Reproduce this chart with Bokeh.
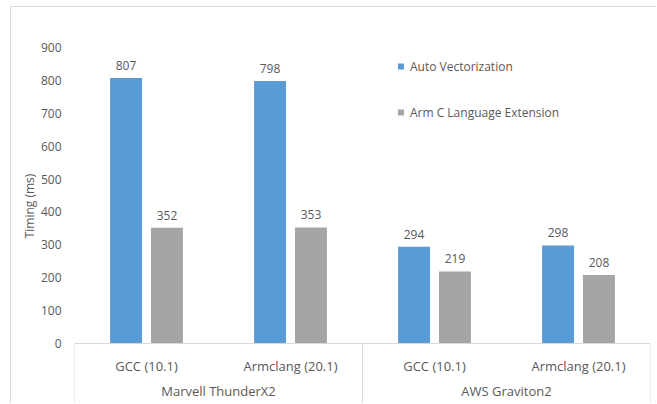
from bokeh.plotting import figure
from bokeh.models import FactorRange, Range1d, FixedTicker, ColumnDataSource
from bokeh.transform import dodge
from bokeh.core.properties import value
from bokeh.embed import file_html
from bokeh.resources import INLINE

# ---- data ----
platforms = ["Marvell ThunderX2", "AWS Graviton2"]
compilers = ["GCC (10.1)", "Armclang (20.1)"]
series_names = ["Auto Vectorization", "Arm C Language Extension"]
auto_vec = [807, 798, 294, 298]
acle = [352, 353, 219, 208]
y_ticks = [0, 100, 200, 300, 400, 500, 600, 700, 800, 900]

factors = [(pl, c) for pl in platforms for c in compilers]

FONT = "Open Sans"
TXT = "#595959"
LINE = "#D9D9D9"
BLUE = "#5B9BD5"
GRAY = "#A5A5A5"

W, H = 646, 397
PX = 0.3289  # pixels per unit
Y0 = 336     # canvas y of value 0
YTOP = Y0 / PX
YBOT = -(H - Y0) / PX

p = figure(width=W, height=H, output_backend="svg", toolbar_location=None,
           x_range=FactorRange(*factors, range_padding=0, group_padding=0,
                               factor_padding=0),
           y_range=Range1d(YBOT, YTOP),
           min_border_left=63, min_border_right=7, min_border_top=0,
           min_border_bottom=0)
p.styles = {"margin-left": "10px", "margin-top": "6px",
            "border-left": "1px solid #D9D9D9",
            "border-top": "1px solid #D9D9D9"}
p.xaxis.visible = False
p.xgrid.visible = False
p.ygrid.visible = False
p.outline_line_color = None
p.background_fill_color = "white"
p.border_fill_color = "white"

ax = p.yaxis[0]
ax.ticker = FixedTicker(ticks=y_ticks)
ax.bounds = (0, 900)
ax.axis_line_color = None
ax.major_tick_line_color = None
ax.minor_tick_line_color = None
ax.major_tick_out = 0
ax.major_label_standoff = 13
ax.major_label_text_font = FONT
ax.major_label_text_font_size = "12px"
ax.major_label_text_color = TXT
ax.axis_label = "Timing (ms)"
ax.axis_label_text_font = FONT
ax.axis_label_text_font_size = "12px"
ax.axis_label_text_font_style = "normal"
ax.axis_label_text_color = TXT
ax.axis_label_standoff = 0

src = ColumnDataSource(dict(x=factors, a=auto_vec, b=acle,
                            at=[str(v) for v in auto_vec],
                            bt=[str(v) for v in acle],
                            comp=[f[1] for f in factors]))

off = 0.142
bw = 0.222
p.vbar(x=dodge("x", -off, range=p.x_range), top="a", width=bw, bottom=0,
       source=src, fill_color=BLUE, line_color=None)
p.vbar(x=dodge("x", off, range=p.x_range), top="b", width=bw, bottom=0,
       source=src, fill_color=GRAY, line_color=None)

p.text(x=dodge("x", -off, range=p.x_range), y="a", text="at", source=src,
       text_align="center", text_baseline="bottom", y_offset=-8,
       text_font=value(FONT), text_font_size="12px", text_color=TXT)
p.text(x=dodge("x", off, range=p.x_range), y="b", text="bt", source=src,
       text_align="center", text_baseline="bottom", y_offset=-8,
       text_font=value(FONT), text_font_size="12px", text_color=TXT)

# category labels
p.text(x="x", y=-22 / PX, text="comp", source=src, text_align="center",
       text_baseline="middle", text_font=value(FONT), text_font_size="13px",
       text_color=TXT)
p.text(x=platforms, y=[-47 / PX] * len(platforms), text=platforms,
       text_align="center", text_baseline="middle", text_font=value(FONT),
       text_font_size="13px", text_color=TXT)

# axis box lines
n = len(factors)
p.segment(x0=[0], y0=[0], x1=[n], y1=[0], line_color=LINE, line_width=1)
p.segment(x0=[0, n // 2, n], y0=[0, 0, 0], x1=[0, n // 2, n],
          y1=[YBOT] * 3, line_color=LINE, line_width=1)

# legend (manual, Excel style)
leg_x = [2.267, 2.267]
leg_y = [277 / PX, 231 / PX]
p.scatter(x=leg_x, y=leg_y, marker="square", size=6,
          fill_color=[BLUE, GRAY], line_color=None)
p.text(x=leg_x, y=leg_y, text=series_names, x_offset=9,
       text_baseline="middle", text_align="left", text_font=value(FONT),
       text_font_size="12px", text_color=TXT)

open("out.html", "w").write(file_html(p, INLINE))
